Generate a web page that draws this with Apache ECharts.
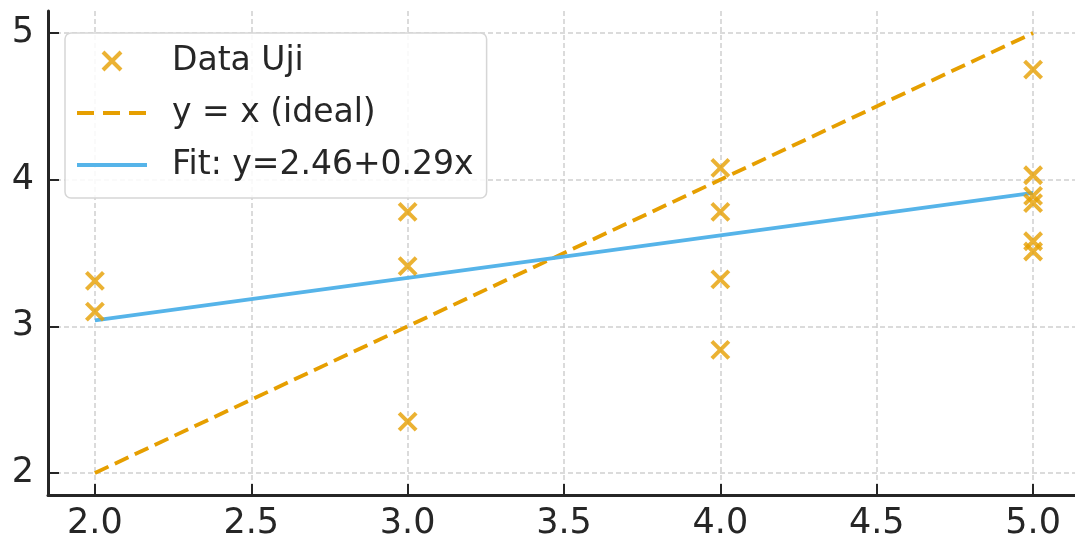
<!DOCTYPE html>
<html>
<head>
<meta charset="utf-8">
<script src="https://cdn.jsdelivr.net/npm/echarts@6/dist/echarts.min.js"></script>
<style>
html,body{margin:0;padding:0;background:#fff;}
#chart{width:1075px;height:542px;}
</style>
</head>
<body>
<div id="chart"></div>
<script>
// Data
const scatterX = [2, 2, 3, 3, 3, 4, 4, 4, 4, 5, 5, 5, 5, 5, 5];
const scatterY = [3.31, 3.10, 3.78, 3.41, 2.35, 4.08, 3.78, 3.32, 2.84, 4.75, 4.03, 3.89, 3.84, 3.58, 3.51];
const idealLine = [[2, 2], [5, 5]];
const fitLine = [[2, 3.04], [5, 3.91]];
const xTicks = [2.0, 2.5, 3.0, 3.5, 4.0, 4.5, 5.0];
const yTicks = [2, 3, 4, 5];
const seriesNames = ['Data Uji', 'y = x (ideal)', 'Fit: y=2.46+0.29x'];

const ORANGE = '#E69F00';
const BLUE = '#56B4E9';
const TXT = '#262626';
const FONT = 'DejaVu Sans';

const chart = echarts.init(document.getElementById('chart'), null, {renderer: 'canvas'});

const axisCommon = {
  axisLine: {show: true, lineStyle: {color: TXT, width: 3}},
  axisTick: {show: true, inside: true, length: 11, lineStyle: {color: TXT, width: 2}},
  splitLine: {show: true, lineStyle: {color: '#d0d0d0', width: 1.5, type: [5, 3]}},
};

const hiddenDot = {color: 'rgba(0,0,0,0)', borderWidth: 0, opacity: 0};
const dashIdeal = [15, 7];

chart.setOption({
  backgroundColor: '#fff',
  animation: false,
  textStyle: {fontFamily: FONT},
  grid: {left: 48, top: 11, right: 0, bottom: 47, containLabel: false},
  xAxis: Object.assign({}, axisCommon, {
    type: 'value', min: 1.85, max: 5.134,
    axisTick: Object.assign({}, axisCommon.axisTick, {customValues: xTicks}),
    axisLabel: {customValues: xTicks, margin: 11, color: TXT, fontSize: 35, fontFamily: FONT,
      formatter: v => Number(v).toFixed(1)},
  }),
  yAxis: Object.assign({}, axisCommon, {
    type: 'value', min: 1.85, max: 5.15,
    axisTick: Object.assign({}, axisCommon.axisTick, {customValues: yTicks}),
    axisLabel: {customValues: yTicks, margin: 14, color: TXT, fontSize: 35, fontFamily: FONT,
      formatter: v => String(Math.round(v))},
  }),
  legend: {
    orient: 'vertical', left: 65, top: 33,
    itemWidth: 70, itemHeight: 18, itemGap: 14,
    padding: [9, 13, 14, 10],
    backgroundColor: 'rgba(255,255,255,0.85)',
    borderColor: '#d6d6d6', borderWidth: 1.5, borderRadius: 6,
    textStyle: {color: TXT, fontSize: 33, fontFamily: FONT, lineHeight: 38, padding: [0, 0, 0, 20]},
    data: [
      {name: seriesNames[0], itemStyle: {borderWidth: 4, borderColor: ORANGE, color: 'rgba(0,0,0,0)'}},
      {name: seriesNames[1], itemStyle: hiddenDot, lineStyle: {color: ORANGE, width: 4, type: [17, 9]}},
      {name: seriesNames[2], itemStyle: hiddenDot, lineStyle: {color: BLUE, width: 4, type: 'solid'}},
    ],
  },
  series: [
    {
      name: seriesNames[1], type: 'line', data: idealLine, symbol: 'none', z: 2,
      lineStyle: {color: ORANGE, width: 3.8, type: dashIdeal}, itemStyle: {color: ORANGE},
    },
    {
      name: seriesNames[2], type: 'line', data: fitLine, symbol: 'none', z: 3,
      lineStyle: {color: BLUE, width: 3.8, type: 'solid'}, itemStyle: {color: BLUE},
    },
    {
      name: seriesNames[0], type: 'scatter', z: 4,
      data: scatterX.map((x, i) => [x, scatterY[i]]),
      symbol: 'path://M0,0L10,10M10,0L0,10', symbolSize: 17, symbolKeepAspect: true,
      itemStyle: {color: 'rgba(0,0,0,0)', borderColor: ORANGE, borderWidth: 4},
    },
  ],
});
</script>
</body>
</html>
